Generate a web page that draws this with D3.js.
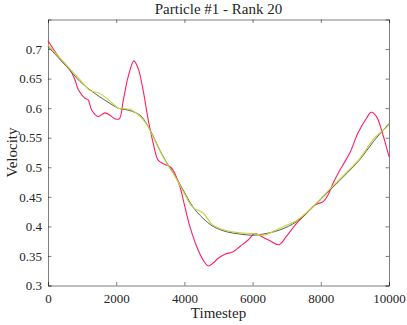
<!DOCTYPE html>
<html lang="en">
<head>
<meta charset="utf-8">
<title>Particle #1 - Rank 20</title>
<script src="https://cdn.jsdelivr.net/npm/d3@7"></script>
<style>
  body { margin: 0; background: #fff; }
  text { font-family: "Liberation Serif", "Times New Roman", serif; fill: #262626; }
</style>
</head>
<body>
<script>
// original signal (red)
var redT = [0, 350, 645, 790, 890, 1080, 1180, 1280, 1470, 1670, 1820, 1960, 2090, 2210, 2350,
            2520, 2650, 2790, 2940, 3085, 3230, 3380, 3575, 3670, 3870, 4015, 4160, 4360, 4550,
            4700, 4840, 4990, 5190, 5430, 5630, 5870, 6065, 6260, 6500, 6770, 6990, 7290, 7580,
            7820, 8070, 8210, 8360, 8510, 8650, 8850, 9090, 9340, 9480, 9630, 9780, 9920, 10000];
var redV = [0.714, 0.684, 0.665, 0.648, 0.631, 0.617, 0.614, 0.597, 0.586, 0.592, 0.588, 0.582,
            0.582, 0.614, 0.653, 0.680, 0.666, 0.630, 0.580, 0.541, 0.512, 0.506, 0.501, 0.495,
            0.467, 0.433, 0.400, 0.366, 0.343, 0.333, 0.338, 0.346, 0.353, 0.357, 0.366, 0.377,
            0.388, 0.383, 0.376, 0.369, 0.383, 0.405, 0.422, 0.436, 0.442, 0.453, 0.473, 0.490,
            0.504, 0.524, 0.558, 0.583, 0.593, 0.586, 0.563, 0.535, 0.518];

// reconstructions (gray and green), same time grid
var fitT = [0, 550, 940, 1230, 1520, 1820, 2060, 2400, 2700, 2890, 3040, 3280, 3470, 3720, 3960,
            4250, 4540, 4840, 5230, 5630, 6020, 6310, 6800, 7290, 7780, 8280, 8770, 9160, 9550, 10000];
var grayV = [0.704, 0.670, 0.645, 0.631, 0.619, 0.608, 0.600, 0.596, 0.588, 0.574, 0.558, 0.529,
             0.509, 0.486, 0.462, 0.433, 0.414, 0.400, 0.391, 0.387, 0.385, 0.387, 0.394, 0.408,
             0.433, 0.462, 0.490, 0.514, 0.544, 0.574];
var greenV = [0.707, 0.672, 0.648, 0.630, 0.625, 0.612, 0.600, 0.598, 0.586, 0.573, 0.557, 0.528,
              0.508, 0.485, 0.460, 0.432, 0.423, 0.402, 0.393, 0.389, 0.388, 0.385, 0.397, 0.410,
              0.434, 0.464, 0.492, 0.516, 0.548, 0.571];

var xTicks = [0, 2000, 4000, 6000, 8000, 10000];
var yTicks = [0.3, 0.35, 0.4, 0.45, 0.5, 0.55, 0.6, 0.65, 0.7];

var width = 407, height = 325;
var plotLeft = 48, plotRight = 389, plotTop = 19.5, plotBottom = 285.5;

var svg = d3.select("body").append("svg")
  .attr("width", width)
  .attr("height", height);

var x = d3.scaleLinear().domain([0, 10000]).range([plotLeft, plotRight]);
var y = d3.scaleLinear().domain([0.3, 0.75]).range([plotBottom, plotTop]);

// axes box, ticks pointing inward like matlab
function styleAxis(g) {
  g.selectAll("path").attr("stroke", "#262626").attr("stroke-width", 0.6);
  g.selectAll("line").attr("stroke", "#262626").attr("stroke-width", 0.6);
  g.selectAll("text").style("font-size", "13px").attr("fill", "#262626");
}

svg.append("g")
  .attr("transform", "translate(0," + plotBottom + ")")
  .call(d3.axisBottom(x).tickValues(xTicks).tickSize(-3.5).tickPadding(8).tickFormat(d3.format("d")))
  .call(styleAxis);

svg.append("g")
  .attr("transform", "translate(0," + plotTop + ")")
  .call(d3.axisTop(x).tickValues(xTicks).tickSize(-3.5).tickFormat(""))
  .call(styleAxis);

svg.append("g")
  .attr("transform", "translate(" + plotLeft + ",0)")
  .call(d3.axisLeft(y).tickValues(yTicks).tickSize(-3.5).tickPadding(6).tickFormat(d => String(+d.toFixed(2))))
  .call(styleAxis);

svg.append("g")
  .attr("transform", "translate(" + plotRight + ",0)")
  .call(d3.axisRight(y).tickValues(yTicks).tickSize(-3.5).tickFormat(""))
  .call(styleAxis);

// lines
var line = d3.line()
  .x(d => x(d[0]))
  .y(d => y(d[1]))
  .curve(d3.curveCatmullRom.alpha(0.5));

var plot = svg.append("g");

plot.append("path")
  .datum(redT.map((t, i) => [t, redV[i]]))
  .attr("d", line)
  .attr("fill", "none")
  .attr("stroke", "#ff1f5f")
  .attr("stroke-width", 1.1);

plot.append("path")
  .datum(fitT.map((t, i) => [t, grayV[i]]))
  .attr("d", line)
  .attr("fill", "none")
  .attr("stroke", "#5a5a5a")
  .attr("stroke-width", 1);

plot.append("path")
  .datum(fitT.map((t, i) => [t, greenV[i]]))
  .attr("d", line)
  .attr("fill", "none")
  .attr("stroke", "#c3d43a")
  .attr("stroke-width", 1.1);

// title and labels
svg.append("text")
  .attr("x", (plotLeft + plotRight) / 2)
  .attr("y", 14)
  .style("text-anchor", "middle")
  .style("font-size", "15px")
  .text("Particle #1 - Rank 20");

svg.append("text")
  .attr("x", (plotLeft + plotRight) / 2)
  .attr("y", 318)
  .style("text-anchor", "middle")
  .style("font-size", "15px")
  .text("Timestep");

svg.append("text")
  .attr("transform", "translate(17," + (plotTop + plotBottom) / 2 + ") rotate(-90)")
  .style("text-anchor", "middle")
  .style("font-size", "15px")
  .text("Velocity");
</script>
</body>
</html>
